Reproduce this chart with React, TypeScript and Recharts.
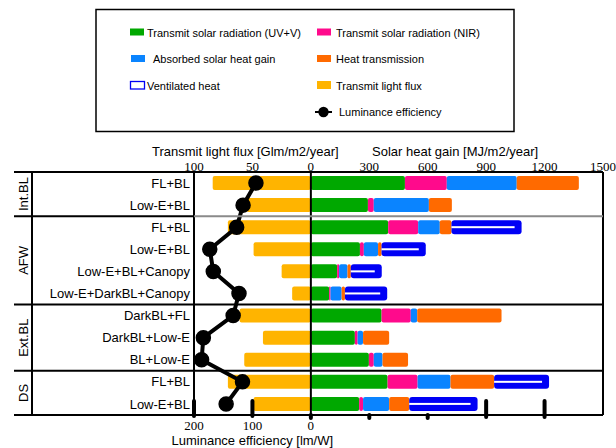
import React from "react";
import { ComposedChart, Bar, Line, XAxis, YAxis, ReferenceLine } from "recharts";

// window systems, grouped by shading type
const groupNames = ["Int.BL", "AFW", "Ext.BL", "DS"];
const groupRows = [2, 4, 3, 2];
const systems = [
  "FL+BL",
  "Low-E+BL",
  "FL+BL",
  "Low-E+BL",
  "Low-E+BL+Canopy",
  "Low-E+DarkBL+Canopy",
  "DarkBL+FL",
  "DarkBL+Low-E",
  "BL+Low-E",
  "FL+BL",
  "Low-E+BL",
];

// solar heat gain components [MJ/m2/year]
const uvVis = [483, 293, 397, 252, 135, 94, 363, 226, 298, 394, 248];
const nir = [215, 30, 154, 20, 10, 7, 150, 14, 25, 154, 20];
const absorbed = [359, 283, 111, 73, 43, 57, 33, 28, 45, 169, 134];
const heatTrans = [319, 118, 60, 18, 17, 17, 433, 134, 131, 224, 103];
const ventilated = [0, 0, 360, 227, 159, 217, 0, 0, 0, 282, 351];

// transmitted light flux [Glm/m2/year] and luminance efficiency [lm/W]
const lightFlux = [84, 55, 71, 49, 25, 16, 61, 41, 57, 71, 49];
const luminance = [94, 116, 127, 173, 167, 123, 133, 184, 187, 117, 145];

const lightTicks = [100, 50];
const heatTicks = [0, 300, 600, 900, 1200, 1500];
const lumTicks = [200, 100, 0];
const lumLongMarks = [200, 100];
const heatShortMarks = [0, 300, 600];
const heatLongMarks = [900, 1200];

const COLORS = {
  uvv: "#00a800",
  nir: "#ff0a8c",
  abs: "#0a84ff",
  heat: "#ff6a00",
  vent: "#0000f5",
  light: "#ffb400",
};

const W = 616;
const H = 448;
const PLOT = { left: 194, right: 603, top: 172, bottom: 415 };
const SANS = "Liberation Sans, Arial, sans-serif";
const SERIF = "Liberation Serif, Times New Roman, serif";

const data = systems.map((name, i) => ({
  key: i,
  name,
  light: lightFlux[i],
  uvv: uvVis[i],
  nir: nir[i],
  abs: absorbed[i],
  heat: heatTrans[i],
  vent: ventilated[i],
  lum: luminance[i],
}));

function VentShape(props: any) {
  const { x, y, width, height } = props;
  if (!width || width <= 0) return <g />;
  return (
    <g>
      <rect x={x} y={y} width={width} height={height} rx={3} fill={COLORS.vent} />
      <rect x={x} y={y + height / 2 - 1} width={Math.max(0, width - 7)} height={2} fill="#fff" />
    </g>
  );
}

// short rounded tick marks sitting on the bottom frame line
const markShape = (up: number, down: number) => (p: any) => {
  const yb = Math.max(p.y1, p.y2);
  return (
    <line
      x1={p.x1}
      x2={p.x1}
      y1={yb - up}
      y2={yb + down}
      stroke="#000"
      strokeWidth={4}
      strokeLinecap="round"
    />
  );
};

const axisTick = { fill: "#000", fontSize: 13, fontFamily: SERIF };

function Legend() {
  const t = { fontSize: 11, fontFamily: SANS, fill: "#000" };
  return (
    <g>
      <rect x={96} y={9.5} width={418} height={122} fill="#fff" stroke="#000" strokeWidth={1.5} />
      <rect x={130} y={28.5} width={14} height={7} fill={COLORS.uvv} />
      <text x={147} y={37} {...t}>Transmit solar radiation (UV+V)</text>
      <rect x={317} y={28.5} width={14} height={7} fill={COLORS.nir} />
      <text x={336} y={37} {...t}>Transmit solar radiation (NIR)</text>
      <rect x={131} y={55} width={14} height={7} fill={COLORS.abs} />
      <text x={153} y={63} {...t}>Absorbed solar heat gain</text>
      <rect x={317} y={55} width={14} height={7} fill={COLORS.heat} />
      <text x={336} y={63} {...t}>Heat transmission</text>
      <rect x={130.5} y={81.5} width={14} height={7.5} fill="#fff" stroke={COLORS.vent} strokeWidth={1.3} />
      <text x={147} y={90} {...t}>Ventilated heat</text>
      <rect x={317} y={81} width={14} height={8} fill={COLORS.light} />
      <text x={336} y={90} {...t}>Transmit light flux</text>
      <line x1={315} x2={332} y1={112} y2={112} stroke="#000" strokeWidth={2} />
      <circle cx={323.5} cy={112} r={5.2} fill="#000" />
      <text x={339} y={116} {...t}>Luminance efficiency</text>
    </g>
  );
}

function Frame() {
  const rowH = (PLOT.bottom - PLOT.top) / systems.length;
  const bounds: number[] = [];
  let acc = 0;
  groupRows.forEach((n) => {
    bounds.push(acc);
    acc += n;
  });
  const k = { stroke: "#000", strokeWidth: 2 };
  return (
    <g>
      <line x1={14} x2={PLOT.right} y1={PLOT.top} y2={PLOT.top} {...k} />
      <line x1={14} x2={PLOT.right} y1={PLOT.bottom} y2={PLOT.bottom} {...k} />
      <line x1={32} x2={32} y1={PLOT.top} y2={PLOT.bottom} {...k} />
      <line x1={PLOT.left} x2={PLOT.left} y1={PLOT.top} y2={PLOT.bottom} {...k} />
      <line x1={PLOT.right} x2={PLOT.right} y1={PLOT.top} y2={PLOT.bottom} {...k} />
      {bounds.slice(1).map((b, i) => {
        const y = PLOT.top + b * rowH;
        return (
          <g key={b}>
            <line x1={14} x2={PLOT.left} y1={y} y2={y} {...k} />
            <line x1={PLOT.left} x2={PLOT.right} y1={y} y2={y} stroke={i === 0 ? "#8a8a8a" : "#000"} strokeWidth={2} />
          </g>
        );
      })}
      {groupNames.map((g, i) => {
        const cy = PLOT.top + (bounds[i] + groupRows[i] / 2) * rowH;
        return (
          <text
            key={g}
            x={0}
            y={0}
            transform={`translate(23 ${cy}) rotate(-90)`}
            textAnchor="middle"
            dominantBaseline="central"
            fontSize={13}
            fontFamily={SANS}
            fill="#000"
          >
            {g}
          </text>
        );
      })}
      <text x={152} y={156} fontSize={13} fontFamily={SANS} fill="#000">
        Transmit light flux [Glm/m2/year]
      </text>
      <text x={372} y={156} fontSize={13} fontFamily={SANS} fill="#000">
        Solar heat gain [MJ/m2/year]
      </text>
      <text x={171.5} y={444.5} fontSize={13} fontFamily={SANS} fill="#000">
        Luminance efficiency [lm/W]
      </text>
    </g>
  );
}

export default function App() {
  return (
    <div style={{ position: "absolute", left: 0, top: 0, width: W, height: H, background: "#fff" }}>
      <ComposedChart
        width={W}
        height={H}
        data={data}
        layout="vertical"
        margin={{ top: PLOT.top - 20, right: W - PLOT.right, bottom: H - PLOT.bottom - 20, left: 0 }}
        barGap={-14}
        barCategoryGap={0}
      >
        <XAxis xAxisId="light" type="number" domain={[-250, 100]} reversed hide height={0} />
        <XAxis
          xAxisId="heat"
          type="number"
          orientation="top"
          domain={[-600, 1500]}
          ticks={heatTicks}
          interval={0}
          height={20}
          axisLine={false}
          tickLine={false}
          tickSize={0}
          tickMargin={1}
          tick={axisTick}
        />
        <XAxis
          xAxisId="lum"
          type="number"
          orientation="bottom"
          domain={[-500, 200]}
          reversed
          ticks={lumTicks}
          interval={0}
          height={20}
          axisLine={false}
          tickLine={false}
          tickSize={0}
          tickMargin={6}
          tick={axisTick}
        />
        <YAxis
          type="category"
          dataKey="key"
          width={PLOT.left}
          axisLine={false}
          tickLine={false}
          tickSize={0}
          tickMargin={4}
          interval={0}
          tickFormatter={(k) => systems[Number(k)]}
          tick={{ fill: "#000", fontSize: 13, fontFamily: SANS }}
        />
        <Bar xAxisId="light" dataKey="light" stackId="light" barSize={14} fill={COLORS.light} radius={2} isAnimationActive={false} />
        <Bar xAxisId="heat" dataKey="uvv" stackId="heat" barSize={14} fill={COLORS.uvv} radius={2} isAnimationActive={false} />
        <Bar xAxisId="heat" dataKey="nir" stackId="heat" barSize={14} fill={COLORS.nir} radius={2} isAnimationActive={false} />
        <Bar xAxisId="heat" dataKey="abs" stackId="heat" barSize={14} fill={COLORS.abs} radius={2} isAnimationActive={false} />
        <Bar xAxisId="heat" dataKey="heat" stackId="heat" barSize={14} fill={COLORS.heat} radius={2} isAnimationActive={false} />
        <Bar xAxisId="heat" dataKey="vent" stackId="heat" barSize={14} fill={COLORS.vent} shape={VentShape} isAnimationActive={false} />
        <ReferenceLine xAxisId="heat" x={0} stroke="#000" strokeWidth={2} />
        {lightTicks.map((v) => (
          <ReferenceLine
            key={`t${v}`}
            xAxisId="light"
            x={v}
            stroke="none"
            label={{ value: String(v), position: "top", offset: 1, fill: "#000", fontSize: 13, fontFamily: SERIF }}
          />
        ))}
        {lumLongMarks.map((v) => (
          <ReferenceLine key={`l${v}`} xAxisId="lum" x={v} shape={markShape(14, 1)} />
        ))}
        {heatShortMarks.map((v) => (
          <ReferenceLine key={`s${v}`} xAxisId="heat" x={v} shape={markShape(0, 3)} />
        ))}
        {heatLongMarks.map((v) => (
          <ReferenceLine key={`h${v}`} xAxisId="heat" x={v} shape={markShape(14, 2)} />
        ))}
        <Line
          xAxisId="lum"
          dataKey="lum"
          type="linear"
          stroke="#000"
          strokeWidth={4}
          dot={{ r: 7, fill: "#000", stroke: "#000", strokeWidth: 1.5 }}
          isAnimationActive={false}
        />
      </ComposedChart>
      <svg width={W} height={H} style={{ position: "absolute", left: 0, top: 0, pointerEvents: "none" }}>
        <Legend />
        <Frame />
      </svg>
    </div>
  );
}
